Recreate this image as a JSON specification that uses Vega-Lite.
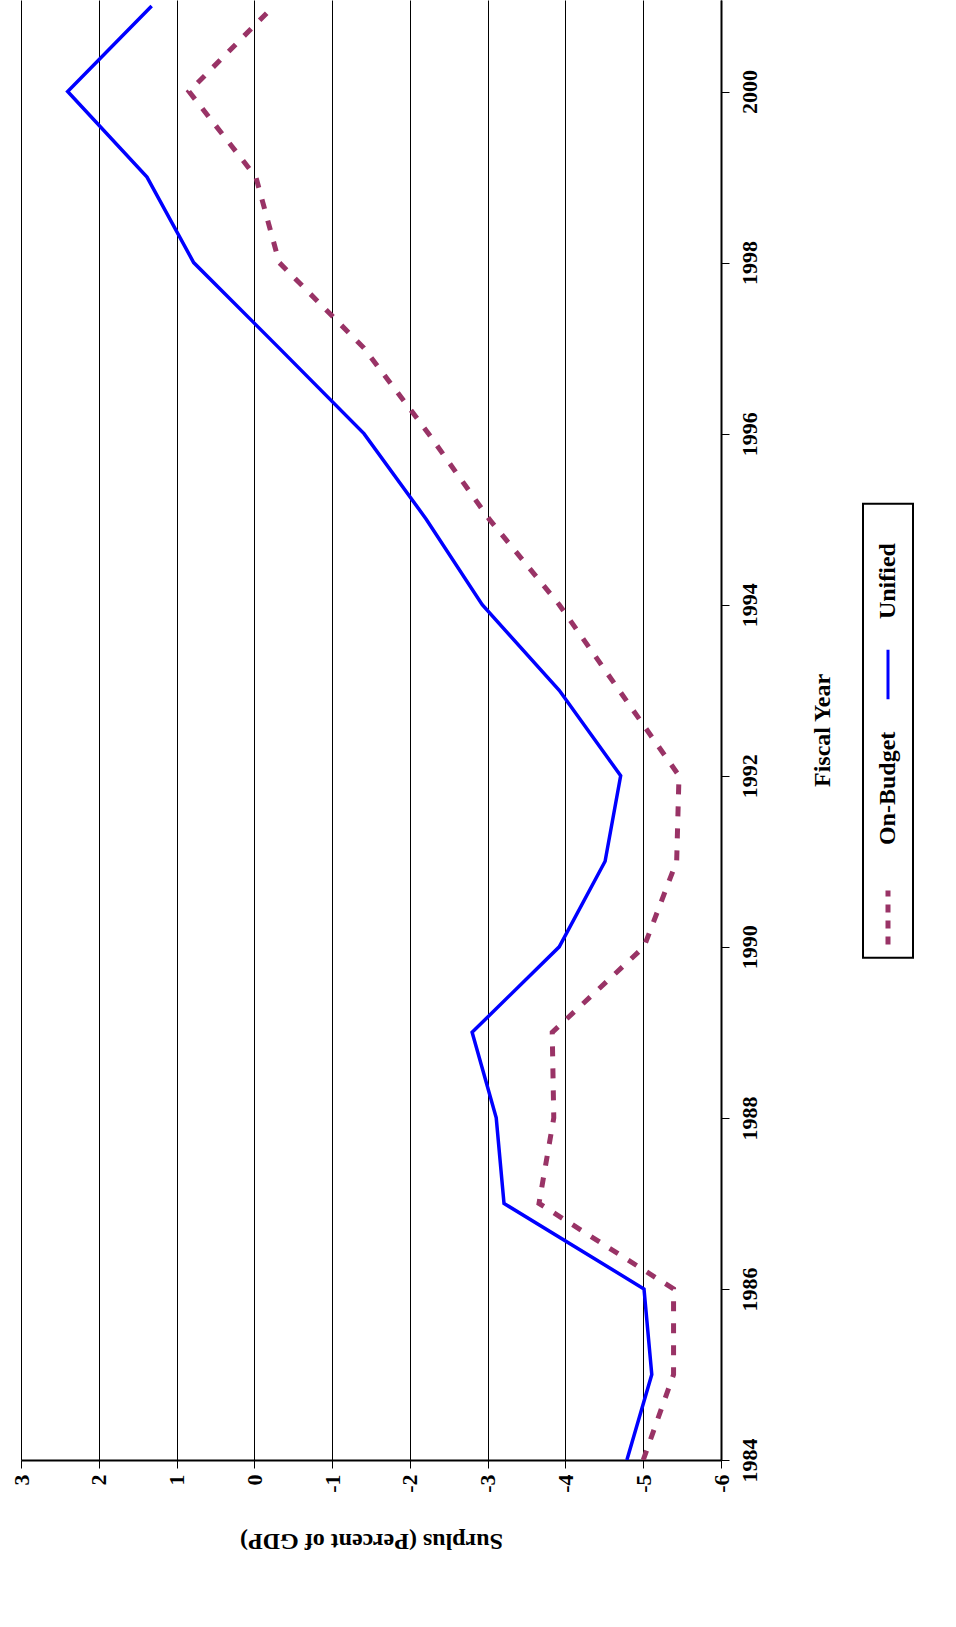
{
  "$schema": "https://vega.github.io/schema/vega-lite/v6.json",
  "padding": {"left": 10, "top": 0, "right": 0, "bottom": 40},
  "background": "white",
  "config": {
    "font": "Liberation Serif",
    "view": {"stroke": null},
    "axis": {"labelFont": "Liberation Serif", "titleFont": "Liberation Serif", "labelFontWeight": "bold", "titleFontWeight": "bold", "labelFontSize": 22, "titleFontSize": 24, "labelColor": "black", "titleColor": "black", "labelBound": false}
  },
  "spacing": 28,
  "hconcat": [
    {
      "width": 700,
      "height": 1460,
      "data": {
        "values": [
          {"year": 1984, "series": "Unified", "surplus": -4.79},
          {"year": 1985, "series": "Unified", "surplus": -5.11},
          {"year": 1986, "series": "Unified", "surplus": -5.01},
          {"year": 1987, "series": "Unified", "surplus": -3.21},
          {"year": 1988, "series": "Unified", "surplus": -3.11},
          {"year": 1989, "series": "Unified", "surplus": -2.8},
          {"year": 1990, "series": "Unified", "surplus": -3.92},
          {"year": 1991, "series": "Unified", "surplus": -4.51},
          {"year": 1992, "series": "Unified", "surplus": -4.71},
          {"year": 1993, "series": "Unified", "surplus": -3.92},
          {"year": 1994, "series": "Unified", "surplus": -2.93},
          {"year": 1995, "series": "Unified", "surplus": -2.21},
          {"year": 1996, "series": "Unified", "surplus": -1.41},
          {"year": 1997, "series": "Unified", "surplus": -0.32},
          {"year": 1998, "series": "Unified", "surplus": 0.78},
          {"year": 1999, "series": "Unified", "surplus": 1.38},
          {"year": 2000, "series": "Unified", "surplus": 2.4},
          {"year": 2001, "series": "Unified", "surplus": 1.32},
          {"year": 1984, "series": "On-Budget", "surplus": -5.0},
          {"year": 1985, "series": "On-Budget", "surplus": -5.39},
          {"year": 1986, "series": "On-Budget", "surplus": -5.39},
          {"year": 1987, "series": "On-Budget", "surplus": -3.66},
          {"year": 1988, "series": "On-Budget", "surplus": -3.85},
          {"year": 1989, "series": "On-Budget", "surplus": -3.83},
          {"year": 1990, "series": "On-Budget", "surplus": -5.01},
          {"year": 1991, "series": "On-Budget", "surplus": -5.43},
          {"year": 1992, "series": "On-Budget", "surplus": -5.46},
          {"year": 1993, "series": "On-Budget", "surplus": -4.69},
          {"year": 1994, "series": "On-Budget", "surplus": -3.92},
          {"year": 1995, "series": "On-Budget", "surplus": -3.02},
          {"year": 1996, "series": "On-Budget", "surplus": -2.24},
          {"year": 1997, "series": "On-Budget", "surplus": -1.41},
          {"year": 1998, "series": "On-Budget", "surplus": -0.32},
          {"year": 1999, "series": "On-Budget", "surplus": -0.02},
          {"year": 2000, "series": "On-Budget", "surplus": 0.84},
          {"year": 2001, "series": "On-Budget", "surplus": -0.25}
        ]
      },
      "encoding": {
        "x": {
          "field": "surplus", "type": "quantitative",
          "scale": {"domain": [-6, 3], "reverse": true, "nice": false},
          "axis": {"orient": "bottom", "values": [-6, -5, -4, -3, -2, -1, 0, 1, 2, 3], "labelExpr": "toString(datum.value)", "labelAngle": 270, "labelAlign": "right", "labelBaseline": "middle", "labelPadding": 6, "grid": true, "gridColor": "black", "gridWidth": 1, "domainColor": "black", "domainWidth": 2, "tickColor": "black", "tickSize": 8, "title": "Surplus (Percent of GDP)", "titleAngle": 180, "titleBaseline": "bottom", "titlePadding": 36}
        },
        "y": {
          "field": "year", "type": "quantitative",
          "scale": {"domain": [1984, 2001.07], "nice": false, "zero": false},
          "axis": {"orient": "right", "values": [1984, 1986, 1988, 1990, 1992, 1994, 1996, 1998, 2000], "format": "d", "labelAngle": 270, "labelAlign": "center", "labelBaseline": "top", "labelPadding": 10, "grid": false, "domainColor": "black", "domainWidth": 2, "tickColor": "black", "tickSize": 8, "title": "Fiscal Year", "titleAngle": 270, "titleBaseline": "top", "titlePadding": 50}
        },
        "order": {"field": "year", "type": "quantitative"}
      },
      "layer": [
        {
          "transform": [{"filter": "datum.series === 'On-Budget'"}],
          "mark": {"type": "line", "color": "#993366", "strokeWidth": 5, "strokeDash": [10, 12], "clip": true}
        },
        {
          "transform": [{"filter": "datum.series === 'Unified'"}],
          "mark": {"type": "line", "color": "#0000ff", "strokeWidth": 3.5, "clip": true}
        }
      ]
    },
    {
      "width": 50,
      "height": 1460,
      "encoding": {
        "x": {"field": "x", "type": "quantitative", "scale": {"domain": [0, 10]}, "axis": null},
        "y": {"field": "y", "type": "quantitative", "scale": {"domain": [0, 100]}, "axis": null}
      },
      "layer": [
        {
          "data": {"values": [{"x": 0, "x2": 10, "y": 34.4, "y2": 65.5}]},
          "mark": {"type": "rect", "fill": "white", "stroke": "black", "strokeWidth": 2},
          "encoding": {"x2": {"field": "x2"}, "y2": {"field": "y2"}}
        },
        {
          "data": {"values": [
            {"series": "On-Budget", "x": 5, "y": 35.3, "y2": 39.0},
            {"series": "Unified", "x": 5, "y": 52.1, "y2": 55.5}
          ]},
          "mark": {"type": "rule"},
          "encoding": {
            "y2": {"field": "y2"},
            "color": {"field": "series", "type": "nominal", "scale": {"domain": ["On-Budget", "Unified"], "range": ["#993366", "#0000ff"]}, "legend": null},
            "strokeWidth": {"field": "series", "type": "nominal", "scale": {"domain": ["On-Budget", "Unified"], "range": [5, 3]}, "legend": null},
            "strokeDash": {"field": "series", "type": "nominal", "scale": {"domain": ["On-Budget", "Unified"], "range": [[8, 8], [1, 0]]}, "legend": null}
          }
        },
        {
          "data": {"values": [
            {"label": "On-Budget", "x": 5, "y": 46.0},
            {"label": "Unified", "x": 5, "y": 60.2}
          ]},
          "mark": {"type": "text", "angle": 270, "font": "Liberation Serif", "fontWeight": "bold", "fontSize": 24, "align": "center", "baseline": "middle", "color": "black"},
          "encoding": {"text": {"field": "label"}}
        }
      ]
    }
  ]
}
